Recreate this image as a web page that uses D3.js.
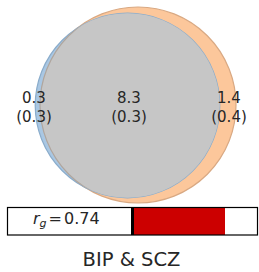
<!DOCTYPE html>
<html>
<head>
<meta charset="utf-8">
<script src="https://cdn.jsdelivr.net/npm/d3@7"></script>
<style>
  body { margin: 0; background: #fff; }
  text { font-family: "DejaVu Sans", sans-serif; fill: #262626; }
</style>
</head>
<body>
<div id="chart"></div>
<script>
// Venn parts: only BIP, shared, only SCZ (with standard errors)
const setNames = ["BIP", "SCZ"];
const partValues = [0.3, 8.3, 1.4];
const partErrors = [0.3, 0.3, 0.4];
const rg = 0.74;
const title = "BIP & SCZ";

const width = 259, height = 272;

const svg = d3.select("#chart").append("svg")
    .attr("width", width)
    .attr("height", height);

// circle area proportional to total size of each trait
const sizes = [partValues[0] + partValues[1], partValues[1] + partValues[2]];
const rScale = d3.scaleSqrt().domain([0, d3.max(sizes)]).range([0, 98]);
const circles = [
    { name: setNames[0], r: rScale(sizes[0]), cx: 127.5, cy: 105.5, fill: "#a9c7e3", stroke: "#8aaccb" },
    { name: setNames[1], r: rScale(sizes[1]), cx: 138, cy: 105, fill: "#fcc79b", stroke: "#d9a983" }
];

const defs = svg.append("defs");
defs.append("clipPath").attr("id", "clip-bip")
  .append("circle")
    .attr("cx", circles[0].cx).attr("cy", circles[0].cy).attr("r", circles[0].r);

// draw the two circles, orange under blue
svg.selectAll("circle.set").data([circles[1], circles[0]]).enter().append("circle")
    .attr("class", "set")
    .attr("cx", d => d.cx)
    .attr("cy", d => d.cy)
    .attr("r", d => d.r)
    .attr("fill", d => d.fill)
    .attr("stroke", d => d.stroke)
    .attr("stroke-width", 1.2);

// overlap region in gray
svg.append("circle")
    .attr("clip-path", "url(#clip-bip)")
    .attr("cx", circles[1].cx).attr("cy", circles[1].cy).attr("r", circles[1].r)
    .attr("fill", "#c6c6c6")
    .attr("stroke", "#b0a69e")
    .attr("stroke-width", 1.2);

// labels for each region
const labelX = [34, 129, 229];
partValues.forEach((v, i) => {
    const t = svg.append("text")
        .attr("x", labelX[i])
        .attr("text-anchor", "middle")
        .style("font-size", "15px");
    t.append("tspan").attr("x", labelX[i]).attr("y", 103).text(v.toFixed(1));
    t.append("tspan").attr("x", labelX[i]).attr("y", 122).text("(" + partErrors[i].toFixed(1) + ")");
});

// genetic correlation bar
const x = d3.scaleLinear().domain([-1, 1]).range([7.5, 257.5]);
const barTop = 207.5, barH = 27.5;

svg.append("rect")
    .attr("x", x(0))
    .attr("y", barTop)
    .attr("width", x(rg) - x(0))
    .attr("height", barH)
    .attr("fill", "#cc0000");

svg.append("line")
    .attr("x1", x(0)).attr("x2", x(0))
    .attr("y1", barTop).attr("y2", barTop + barH)
    .attr("stroke", "#000")
    .attr("stroke-width", 3);

svg.append("rect")
    .attr("x", x(-1))
    .attr("y", barTop)
    .attr("width", x(1) - x(-1))
    .attr("height", barH)
    .attr("fill", "none")
    .attr("stroke", "#000")
    .attr("stroke-width", 1.2);

const rgText = svg.append("text")
    .attr("x", 33)
    .attr("y", 223.5)
    .style("font-size", "16px");
rgText.append("tspan").style("font-style", "italic").text("r");
rgText.append("tspan").style("font-style", "italic").style("font-size", "11px").attr("dy", 3).text("g");
rgText.append("tspan").attr("dy", -3).attr("dx", 2).text("=");
rgText.append("tspan").attr("dx", 2).text(rg.toFixed(2));

svg.append("text")
    .attr("x", 131.5)
    .attr("y", 266)
    .attr("text-anchor", "middle")
    .style("font-size", "19.5px")
    .text(title);
</script>
</body>
</html>
